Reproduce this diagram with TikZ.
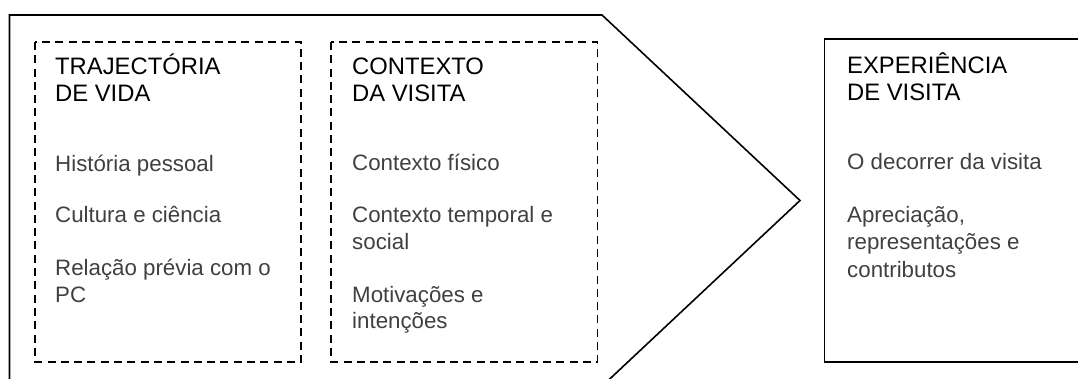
\documentclass[tikz,border=0pt]{standalone}
\usepackage{fontspec}
\setmainfont{Liberation Sans}
\definecolor{itemgray}{HTML}{404040}
\tikzset{
  ttl/.style={anchor=base west, inner sep=0pt, font=\fontsize{23.8}{27}\selectfont, text=black},
  itm/.style={anchor=base west, inner sep=0pt, font=\fontsize{22.3}{26.5}\selectfont, text=itemgray},
  dashbox/.style={draw, line width=1.7pt, dash pattern=on 8pt off 5.3pt},
  solidline/.style={draw, line width=1.6pt, line join=miter}
}
\begin{document}
\begin{tikzpicture}[x=1pt, y=-1pt]
\useasboundingbox (0,0) rectangle (1078,379);
\clip (0,0) rectangle (1078,379);
% pentagon arrow
\draw[solidline] (9.5,390) -- (9.5,15) -- (602,15) -- (800,200.5) -- (598,390);
% right box (open to the right)
\draw[solidline] (1090,39) -- (824.5,39) -- (824.5,362) -- (1090,362);
% dashed boxes
\draw[dashbox] (35,42) rectangle (301,362);
\draw[dashbox] (331,42) rectangle (597.5,362);
% box 1
\node[ttl] (t1a) at (55,75) {TRAJECTÓRIA};
\node[ttl] (t1b) at (55,102) {DE VIDA};
\node[itm] (i1a) at (55,172) {História pessoal};
\node[itm] (i1b) at (55,223) {Cultura e ciência};
\node[itm] (i1c) at (55,275) {Relação prévia com o};
\node[itm] (i1d) at (55,302) {PC};
% box 2
\node[ttl] (t2a) at (352,75) {CONTEXTO};
\node[ttl] (t2b) at (352,102) {DA VISITA};
\node[itm] (i2a) at (352,171) {Contexto físico};
\node[itm] (i2b) at (352,223) {Contexto temporal e};
\node[itm] (i2c) at (352,250) {social};
\node[itm] (i2d) at (352,302) {Motivações e};
\node[itm] (i2e) at (352,328) {intenções};
% box 3
\node[ttl] (t3a) at (847,74) {EXPERIÊNCIA};
\node[ttl] (t3b) at (847,101) {DE VISITA};
\node[itm] (i3a) at (847,170) {O decorrer da visita};
\node[itm] (i3b) at (847,223) {Apreciação,};
\node[itm] (i3c) at (847,250) {representações e};
\node[itm] (i3d) at (847,277) {contributos};
\end{tikzpicture}
\end{document}
